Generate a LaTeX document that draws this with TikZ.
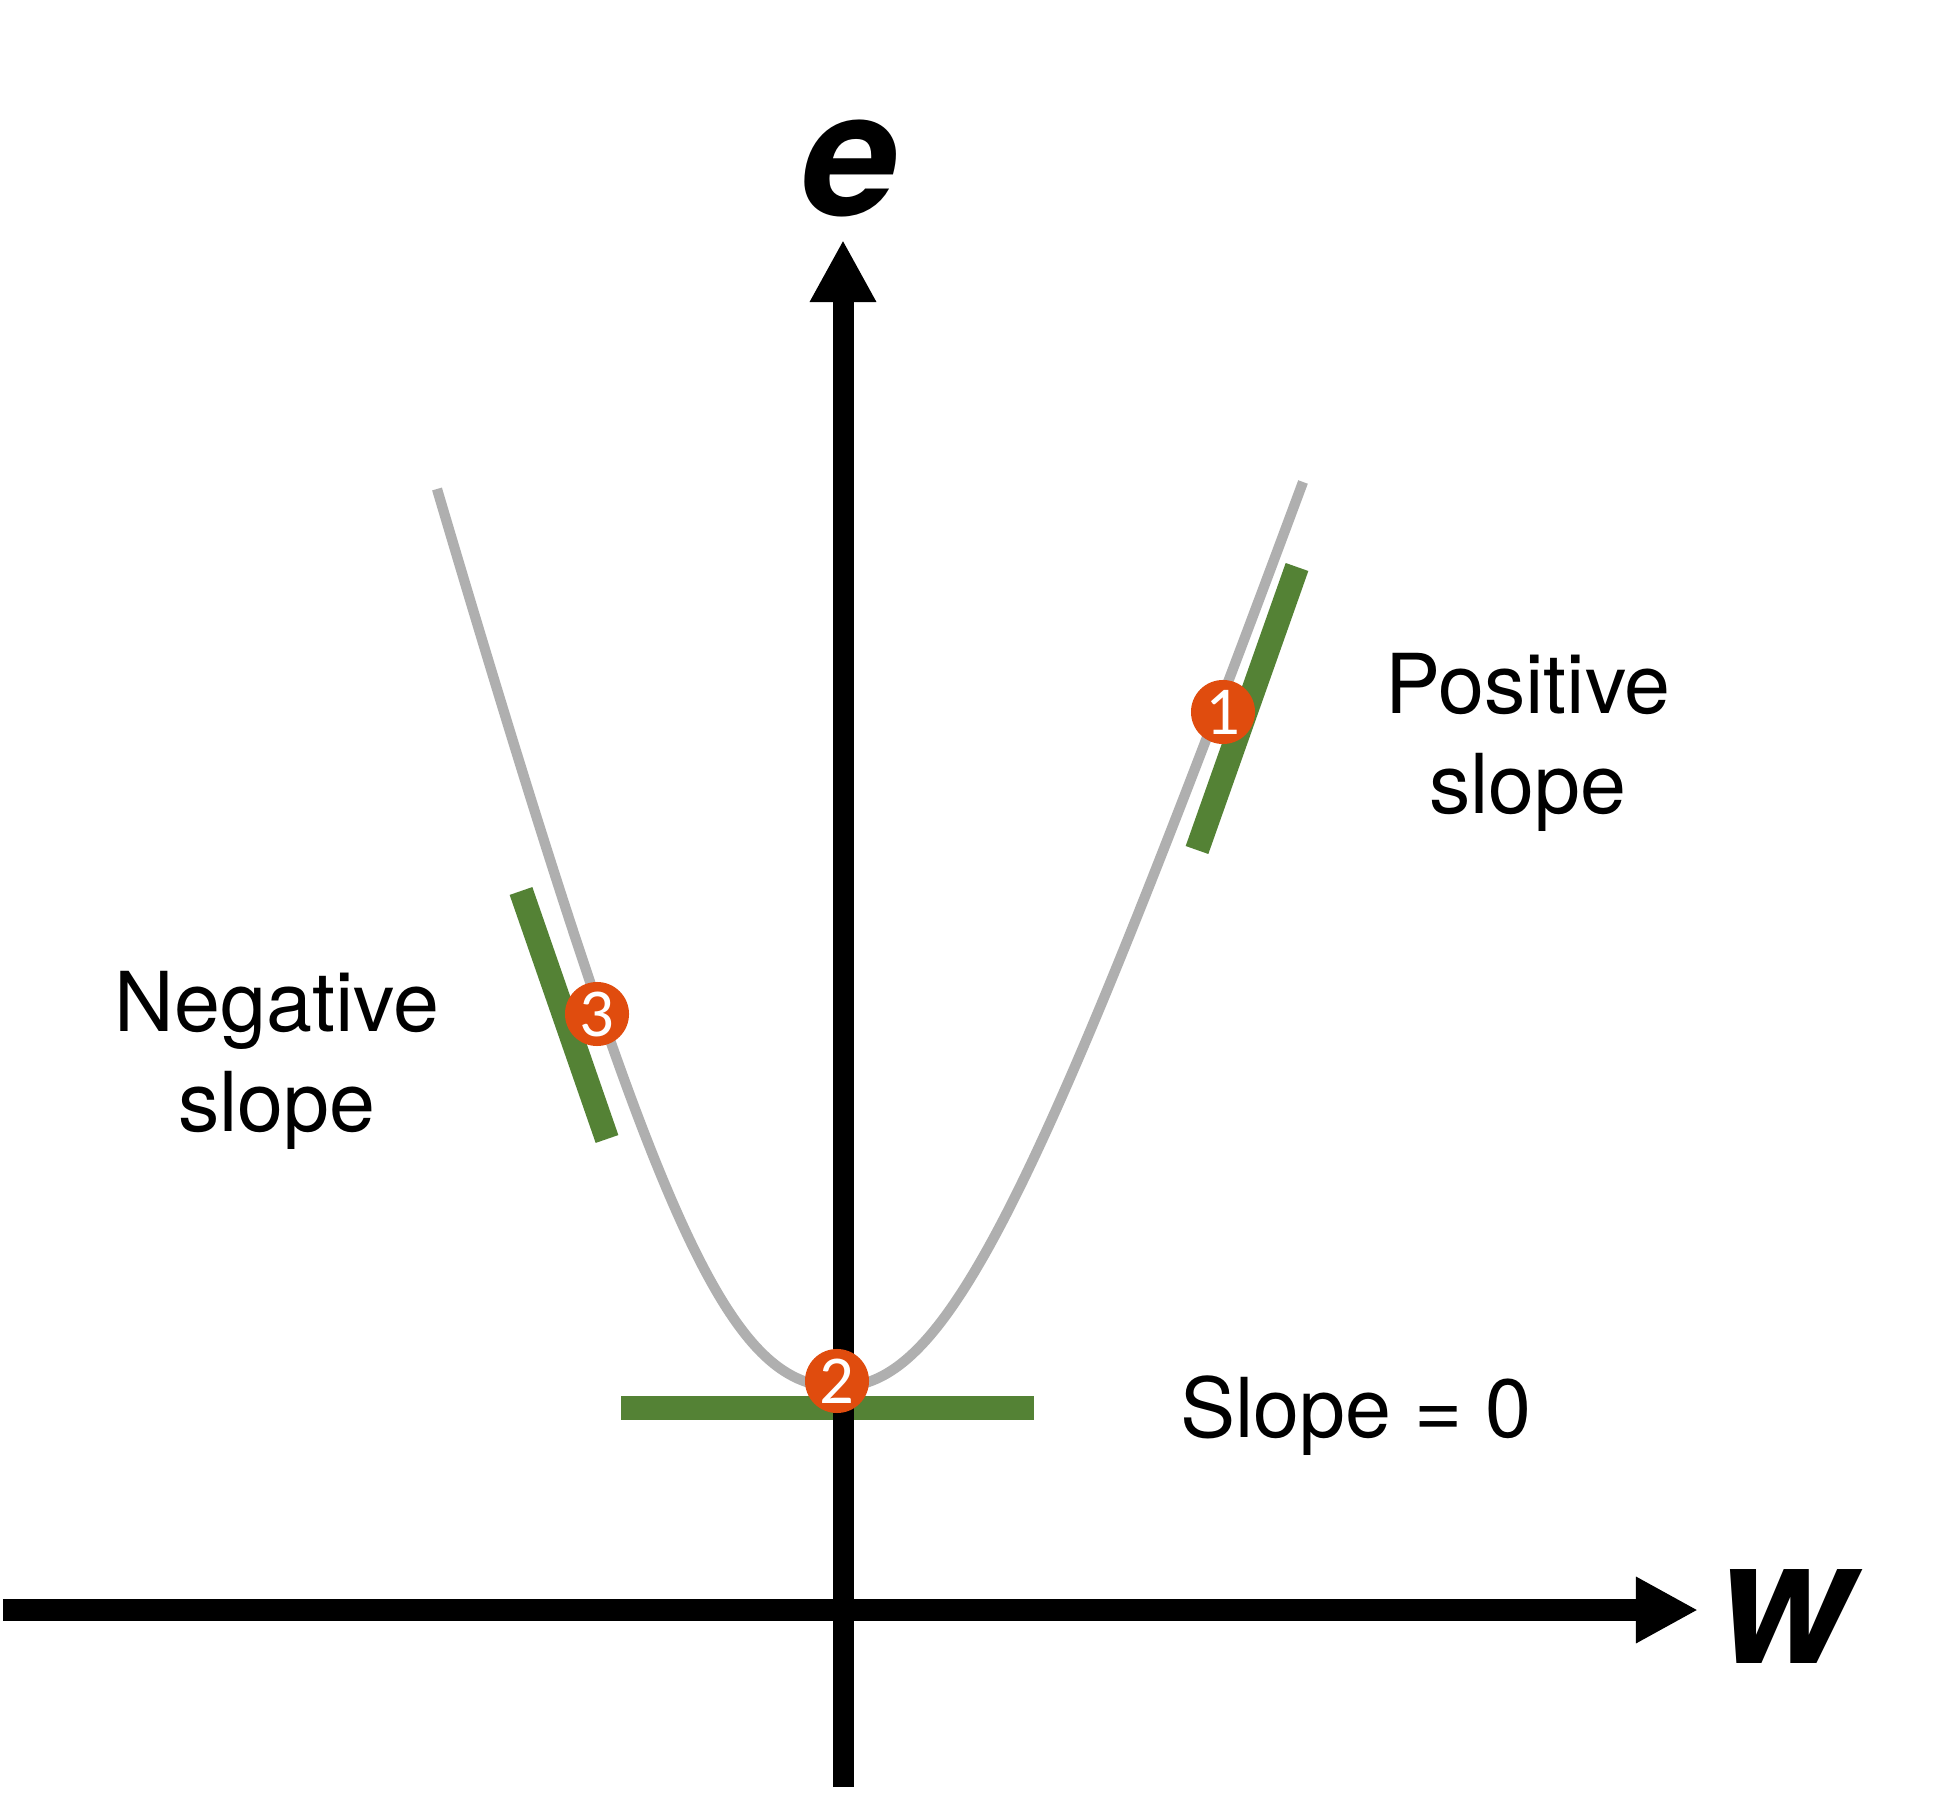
\documentclass[tikz,border=0pt]{standalone}
\usepackage{fontspec}
\setmainfont{TeX Gyre Heros}
\newfontfamily\numfont{Carlito}
\usetikzlibrary{arrows.meta}
\definecolor{curvegray}{RGB}{175,175,175}
\definecolor{tangreen}{RGB}{84,130,53}
\definecolor{markorange}{RGB}{224,76,14}
\tikzset{
  axisline/.style={line width=5.975pt, -{Triangle[length=17.64pt,width=17.64pt]}},
  curveline/.style={line width=2.9pt, curvegray},
  tangentline/.style={line width=6.83pt, tangreen},
  marker/.style={circle, fill=markorange, inner sep=0pt, minimum size=0.64cm,
    text=white, font=\numfont\fontsize{19.5pt}{21pt}\selectfont},
  label/.style={align=center, font=\fontsize{23.5pt}{28.45pt}\selectfont},
  axislabel/.style={font=\fontsize{49.5pt}{55pt}\selectfont\bfseries\itshape}
}
\begin{document}
\begin{tikzpicture}[x=0.01cm,y=-0.01cm]
\useasboundingbox[fill=white] (0,0) rectangle (1942,1804);
% tangent lines
\coordinate (t1a) at (1297,567);
\coordinate (t1b) at (1197,850);
\coordinate (t3a) at (521,891);
\coordinate (t3b) at (607,1139);
\coordinate (t2a) at (621,1408);
\coordinate (t2b) at (1034,1408);
\draw[tangentline] (t1a) -- (t1b);
\draw[tangentline] (t3a) -- (t3b);
\draw[tangentline] (t2a) -- (t2b);
% curve
\coordinate (cl) at (437,489);
\coordinate (cmin) at (838,1387);
\coordinate (cr) at (1303,482);
\draw[curveline] (cl) .. controls (655,1225) and (727,1387) .. (cmin)
  .. controls (944,1387) and (1027.5,1224) .. (cr);
% axes
\coordinate (yb) at (843,1787);
\coordinate (yt) at (843,240);
\coordinate (xl) at (3,1610);
\coordinate (xr) at (1698,1610);
\draw[axisline] (yb) -- (yt);
\draw[axisline] (xl) -- (xr);
% axis labels
\node[axislabel, anchor=base] (elab) at (849,216) {e};
\node[axislabel, anchor=base] (wlab) at (1784,1663) {w};
% markers
\node[marker] (m1) at (1223,712) {1};
\node[marker] (m2) at (837,1381) {2};
\node[marker] (m3) at (597,1014) {3};
% text labels
\node[label, anchor=base] (pos) at (1528,814) {Positive\\slope};
\node[label, anchor=base] (neg) at (277,1132) {Negative\\slope};
\node[label, anchor=base] (zero) at (1356,1437) {Slope = 0};
\end{tikzpicture}
\end{document}
